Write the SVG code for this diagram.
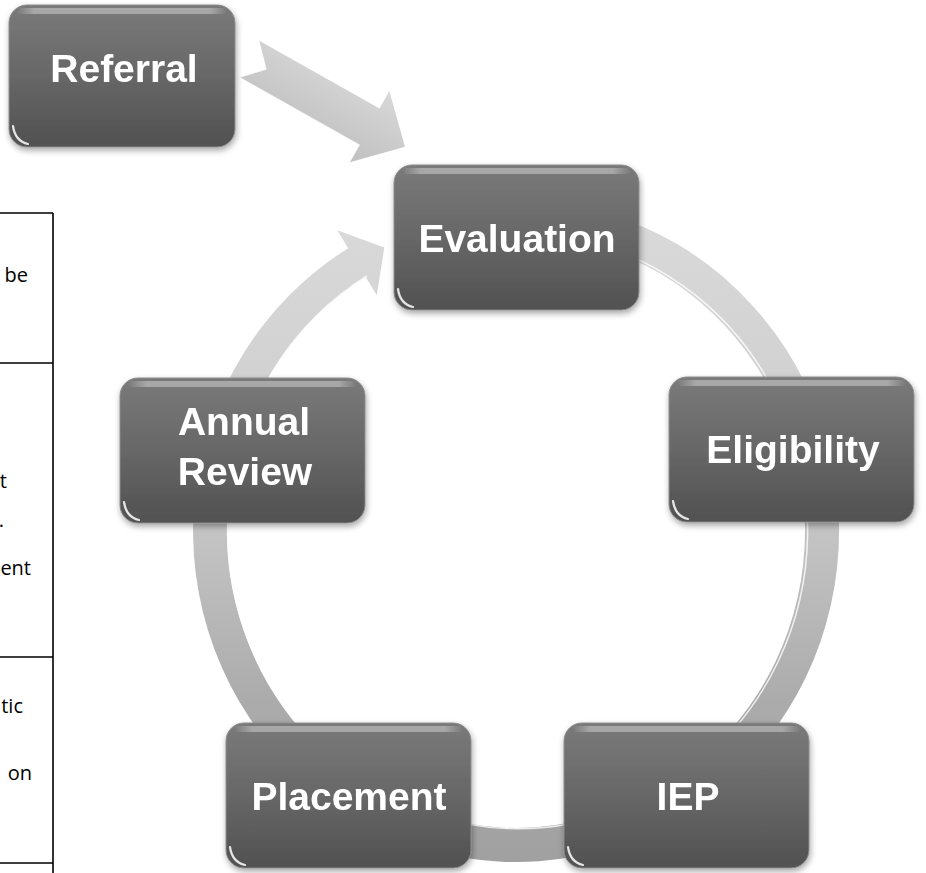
<svg xmlns="http://www.w3.org/2000/svg" width="926" height="873" viewBox="0 0 926 873">
<style>
  .box { fill: url(#boxFill); stroke: #8c8c8c; stroke-width: 1; }
  .gl { fill: url(#gloss); }
  .glint { fill: none; stroke: #ffffff; stroke-width: 2.2; stroke-linecap: round; opacity: 0.85; }
  .lbl { font-family: "Liberation Sans", Arial, sans-serif; font-weight: bold; font-size: 39px; fill: #ffffff; text-anchor: middle; }
  .tbl { fill: none; stroke: #000000; stroke-width: 1.6; }
  .ttxt { font-family: "Open Sans", "Noto Sans", sans-serif; font-size: 20px; fill: #000000; text-anchor: end; }
  .ring { fill: url(#ringFill); }
  .hl { fill: none; stroke: #ffffff; stroke-width: 1.5; opacity: 0.8; }
</style>
<defs>
  <linearGradient id="boxFill" x1="0" y1="0" x2="0" y2="1">
    <stop offset="0" stop-color="#7a7a7a"/>
    <stop offset="0.5" stop-color="#676767"/>
    <stop offset="1" stop-color="#515151"/>
  </linearGradient>
  <linearGradient id="gloss" x1="0" y1="0" x2="1" y2="0">
    <stop offset="0" stop-color="#ffffff" stop-opacity="0"/>
    <stop offset="0.08" stop-color="#ffffff" stop-opacity="0.35"/>
    <stop offset="0.92" stop-color="#ffffff" stop-opacity="0.35"/>
    <stop offset="1" stop-color="#ffffff" stop-opacity="0"/>
  </linearGradient>
  <linearGradient id="ringFill" gradientUnits="userSpaceOnUse" x1="0" y1="200" x2="0" y2="870">
    <stop offset="0" stop-color="#dadada"/>
    <stop offset="0.4" stop-color="#cdcdcd"/>
    <stop offset="0.75" stop-color="#ababab"/>
    <stop offset="1" stop-color="#a0a0a0"/>
  </linearGradient>
  <linearGradient id="arrowFill" x1="0" y1="0" x2="0" y2="1">
    <stop offset="0" stop-color="#d8d8d8"/>
    <stop offset="1" stop-color="#c0c0c0"/>
  </linearGradient>
  <filter id="shadow" x="-10%" y="-10%" width="125%" height="130%">
    <feDropShadow dx="1" dy="3" stdDeviation="3" flood-color="#000000" flood-opacity="0.35"/>
  </filter>
  <g id="tile">
    <rect class="box" x="0" y="0" width="245" height="145" rx="18"/>
    <rect class="gl" x="8" y="3" width="229" height="6" rx="3"/>
    <path class="glint" d="M4 124 Q6 139 19 142"/>
  </g>
</defs>

<g id="table">
  <path class="tbl" d="M53 213 V873 M0 213 H53 M0 363 H53 M0 657 H53 M0 863 H53"/>
  <text class="ttxt" x="28" y="282">be</text>
  <text class="ttxt" x="7" y="488">t</text>
  <text class="ttxt" x="4" y="527">.</text>
  <text class="ttxt" x="31" y="575">ent</text>
  <text class="ttxt" x="23" y="713">tic</text>
  <text class="ttxt" x="32" y="780">on</text>
</g>

<g id="connectors">
  <path class="ring" d="M572.1 205.0 A323 331 0 1 1 348.2 248.2 L337.3 230.2 L384.3 247.6 L376.8 295.2 L365.9 277.2 A289 297 0 1 0 566.2 238.5 Z"/>
  <path class="hl" d="M567 237 A290 298 0 1 1 367 276"/>
  <g transform="translate(249 59) rotate(29.4)">
    <polygon fill="url(#arrowFill)" points="0,-21 138,-21 138,-41 179,0 138,41 138,21 0,21 20,0"/>
    <polyline fill="none" stroke="#ffffff" stroke-width="1.6" opacity="0.85" points="20,0 0,21 138,21 138,41"/>
  </g>
</g>

<g id="referral" filter="url(#shadow)">
  <rect class="box" x="9" y="5" width="226" height="142" rx="18"/>
  <rect class="gl" x="17" y="8" width="210" height="6" rx="3"/>
  <path class="glint" d="M13 126 Q15 141 28 144"/>
  <text class="lbl" x="124" y="82">Referral</text>
</g>
<g id="evaluation" filter="url(#shadow)">
  <use href="#tile" x="394" y="165"/>
  <text class="lbl" x="517" y="252">Evaluation</text>
</g>
<g id="eligibility" filter="url(#shadow)">
  <use href="#tile" x="669" y="377"/>
  <text class="lbl" x="793" y="463">Eligibility</text>
</g>
<g id="iep" filter="url(#shadow)">
  <use href="#tile" x="564" y="723"/>
  <text class="lbl" x="688" y="810">IEP</text>
</g>
<g id="placement" filter="url(#shadow)">
  <use href="#tile" x="226" y="723"/>
  <text class="lbl" x="349" y="810">Placement</text>
</g>
<g id="annual-review" filter="url(#shadow)">
  <use href="#tile" x="120" y="378"/>
  <text class="lbl" x="244" y="435">Annual</text>
  <text class="lbl" x="245" y="485">Review</text>
</g>
</svg>
